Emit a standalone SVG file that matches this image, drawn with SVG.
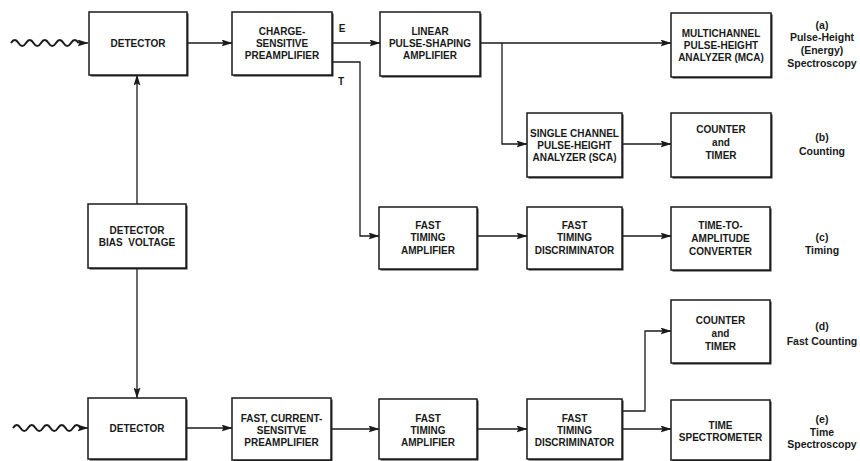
<svg xmlns="http://www.w3.org/2000/svg" width="860" height="461" viewBox="0 0 860 461">
<defs>
<marker id="ah" markerUnits="userSpaceOnUse" markerWidth="11" markerHeight="7" refX="10.5" refY="3.5" orient="auto">
<path d="M0,0 L11,3.5 L0,7 L2,3.5 z" fill="#1a1a1a"/>
</marker>
<style>
.bx{fill:#fff;stroke:#1a1a1a;stroke-width:1.5}
.sh{fill:#2a2a2a}
.t{font-family:"Liberation Sans",Arial,sans-serif;font-weight:bold;font-size:10px;fill:#1a1a1a;text-anchor:middle}
.s{font-family:"Liberation Sans",Arial,sans-serif;font-weight:bold;font-size:10.5px;fill:#1a1a1a;text-anchor:middle}
.c{fill:none;stroke:#1a1a1a;stroke-width:1.3;marker-end:url(#ah)}
.w{fill:none;stroke:#1a1a1a;stroke-width:2}
</style>
</defs>
<rect width="860" height="461" fill="#fff"/>

<g id="connectors">
<path class="w" d="M11,43 q3.75,-6 7.5,0 t7.5,0 t7.5,0 t7.5,0 t7.5,0 t7.5,0 t7.5,0 t7.5,0 t7.5,0"/>
<path class="c" d="M78.5,43 L88,43"/>
<path class="w" d="M13,428 q3.75,-6 7.5,0 t7.5,0 t7.5,0 t7.5,0 t7.5,0 t7.5,0 t7.5,0 t7.5,0 t7.5,0"/>
<path class="c" d="M80.5,428 L88,428"/>
<path class="c" d="M187,43 L232,43"/>
<path class="c" d="M332,43 L380,43"/>
<path class="c" d="M332,62 L360,62 L360,236 L379,236"/>
<path class="c" d="M480,43 L671,43"/>
<path class="c" d="M502,43 L502,144 L527,144"/>
<path class="c" d="M622,144 L671,144"/>
<path class="c" d="M137,204 L137,75"/>
<path class="c" d="M137,268 L137,398"/>
<path class="c" d="M477,236 L527,236"/>
<path class="c" d="M622,236 L671,236"/>
<path class="c" d="M186,428 L232,428"/>
<path class="c" d="M331,429 L379,429"/>
<path class="c" d="M477,429 L527,429"/>
<path class="c" d="M622,429 L671,429"/>
<path class="c" d="M622,411 L645,411 L645,331 L671,331"/>
</g>

<g id="detector1">
<rect class="sh" x="90.5" y="13.5" width="98" height="63"/>
<rect class="bx" x="89" y="12" width="98" height="63"/>
<text class="t" x="138" y="47">DETECTOR</text>
</g>

<g id="charge-preamp">
<rect class="sh" x="233.5" y="13.5" width="100" height="63"/>
<rect class="bx" x="232" y="12" width="100" height="63"/>
<text class="t" x="282" y="35">CHARGE-</text>
<text class="t" x="282" y="47">SENSITIVE</text>
<text class="t" x="282" y="59">PREAMPLIFIER</text>
</g>
<text class="t" x="342" y="32">E</text>
<text class="t" x="341" y="85">T</text>

<g id="linear-amp">
<rect class="sh" x="381.5" y="13.5" width="100" height="64"/>
<rect class="bx" x="380" y="12" width="100" height="64"/>
<text class="t" x="430" y="35">LINEAR</text>
<text class="t" x="430" y="47">PULSE-SHAPING</text>
<text class="t" x="430" y="59">AMPLIFIER</text>
</g>

<g id="mca">
<rect class="sh" x="672.5" y="14.5" width="100" height="64"/>
<rect class="bx" x="671" y="13" width="100" height="64"/>
<text class="t" x="721" y="37">MULTICHANNEL</text>
<text class="t" x="721" y="49">PULSE-HEIGHT</text>
<text class="t" x="721" y="61">ANALYZER (MCA)</text>
</g>

<g id="sca">
<rect class="sh" x="528.5" y="114.5" width="95" height="64"/>
<rect class="bx" x="527" y="113" width="95" height="64"/>
<text class="t" x="574.5" y="137">SINGLE CHANNEL</text>
<text class="t" x="574.5" y="149">PULSE-HEIGHT</text>
<text class="t" x="574.5" y="161">ANALYZER (SCA)</text>
</g>

<g id="counter1">
<rect class="sh" x="672.5" y="114.5" width="100" height="64"/>
<rect class="bx" x="671" y="113" width="100" height="64"/>
<text class="t" x="721" y="133">COUNTER</text>
<text class="t" x="721" y="146">and</text>
<text class="t" x="721" y="159">TIMER</text>
</g>

<g id="bias">
<rect class="sh" x="89.5" y="205.5" width="98" height="64"/>
<rect class="bx" x="88" y="204" width="98" height="64"/>
<text class="t" x="137" y="234">DETECTOR</text>
<text class="t" x="137" y="246" xml:space="preserve">BIAS  VOLTAGE</text>
</g>

<g id="fta1">
<rect class="sh" x="380.5" y="208.5" width="98" height="62"/>
<rect class="bx" x="379" y="207" width="98" height="62"/>
<text class="t" x="428" y="229">FAST</text>
<text class="t" x="428" y="241">TIMING</text>
<text class="t" x="428" y="254">AMPLIFIER</text>
</g>

<g id="ftd1">
<rect class="sh" x="528.5" y="208.5" width="95" height="62"/>
<rect class="bx" x="527" y="207" width="95" height="62"/>
<text class="t" x="574.5" y="229">FAST</text>
<text class="t" x="574.5" y="241">TIMING</text>
<text class="t" x="574.5" y="254">DISCRIMINATOR</text>
</g>

<g id="tac">
<rect class="sh" x="672.5" y="208.5" width="99" height="63"/>
<rect class="bx" x="671" y="207" width="99" height="63"/>
<text class="t" x="720.5" y="229">TIME-TO-</text>
<text class="t" x="720.5" y="242">AMPLITUDE</text>
<text class="t" x="720.5" y="255">CONVERTER</text>
</g>

<g id="detector2">
<rect class="sh" x="89.5" y="399.5" width="98" height="61"/>
<rect class="bx" x="88" y="398" width="98" height="61"/>
<text class="t" x="137" y="432">DETECTOR</text>
</g>

<g id="fast-preamp">
<rect class="sh" x="233.5" y="399.5" width="99" height="62"/>
<rect class="bx" x="232" y="398" width="99" height="62"/>
<text class="t" x="281.5" y="422">FAST, CURRENT-</text>
<text class="t" x="281.5" y="434">SENSITVE</text>
<text class="t" x="281.5" y="446">PREAMPLIFIER</text>
</g>

<g id="fta2">
<rect class="sh" x="380.5" y="400.5" width="98" height="60"/>
<rect class="bx" x="379" y="399" width="98" height="60"/>
<text class="t" x="428" y="422">FAST</text>
<text class="t" x="428" y="434">TIMING</text>
<text class="t" x="428" y="446">AMPLIFIER</text>
</g>

<g id="ftd2">
<rect class="sh" x="528.5" y="400.5" width="95" height="60"/>
<rect class="bx" x="527" y="399" width="95" height="60"/>
<text class="t" x="574.5" y="422">FAST</text>
<text class="t" x="574.5" y="434">TIMING</text>
<text class="t" x="574.5" y="446">DISCRIMINATOR</text>
</g>

<g id="counter2">
<rect class="sh" x="672.5" y="301.5" width="99" height="63"/>
<rect class="bx" x="671" y="300" width="99" height="63"/>
<text class="t" x="720.5" y="324">COUNTER</text>
<text class="t" x="720.5" y="337">and</text>
<text class="t" x="720.5" y="350">TIMER</text>
</g>

<g id="time-spec">
<rect class="sh" x="672.5" y="401.5" width="99" height="60"/>
<rect class="bx" x="671" y="400" width="99" height="60"/>
<text class="t" x="720.5" y="429">TIME</text>
<text class="t" x="720.5" y="441">SPECTROMETER</text>
</g>

<g id="labels">
<text class="s" x="822" y="29">(a)</text>
<text class="s" x="822" y="41">Pulse-Height</text>
<text class="s" x="822" y="54">(Energy)</text>
<text class="s" x="822" y="67">Spectroscopy</text>
<text class="s" x="822" y="141">(b)</text>
<text class="s" x="822" y="155">Counting</text>
<text class="s" x="822" y="241">(c)</text>
<text class="s" x="822" y="254">Timing</text>
<text class="s" x="822" y="330">(d)</text>
<text class="s" x="822" y="345">Fast Counting</text>
<text class="s" x="822" y="423">(e)</text>
<text class="s" x="822" y="436">Time</text>
<text class="s" x="822" y="448">Spectroscopy</text>
</g>
</svg>
